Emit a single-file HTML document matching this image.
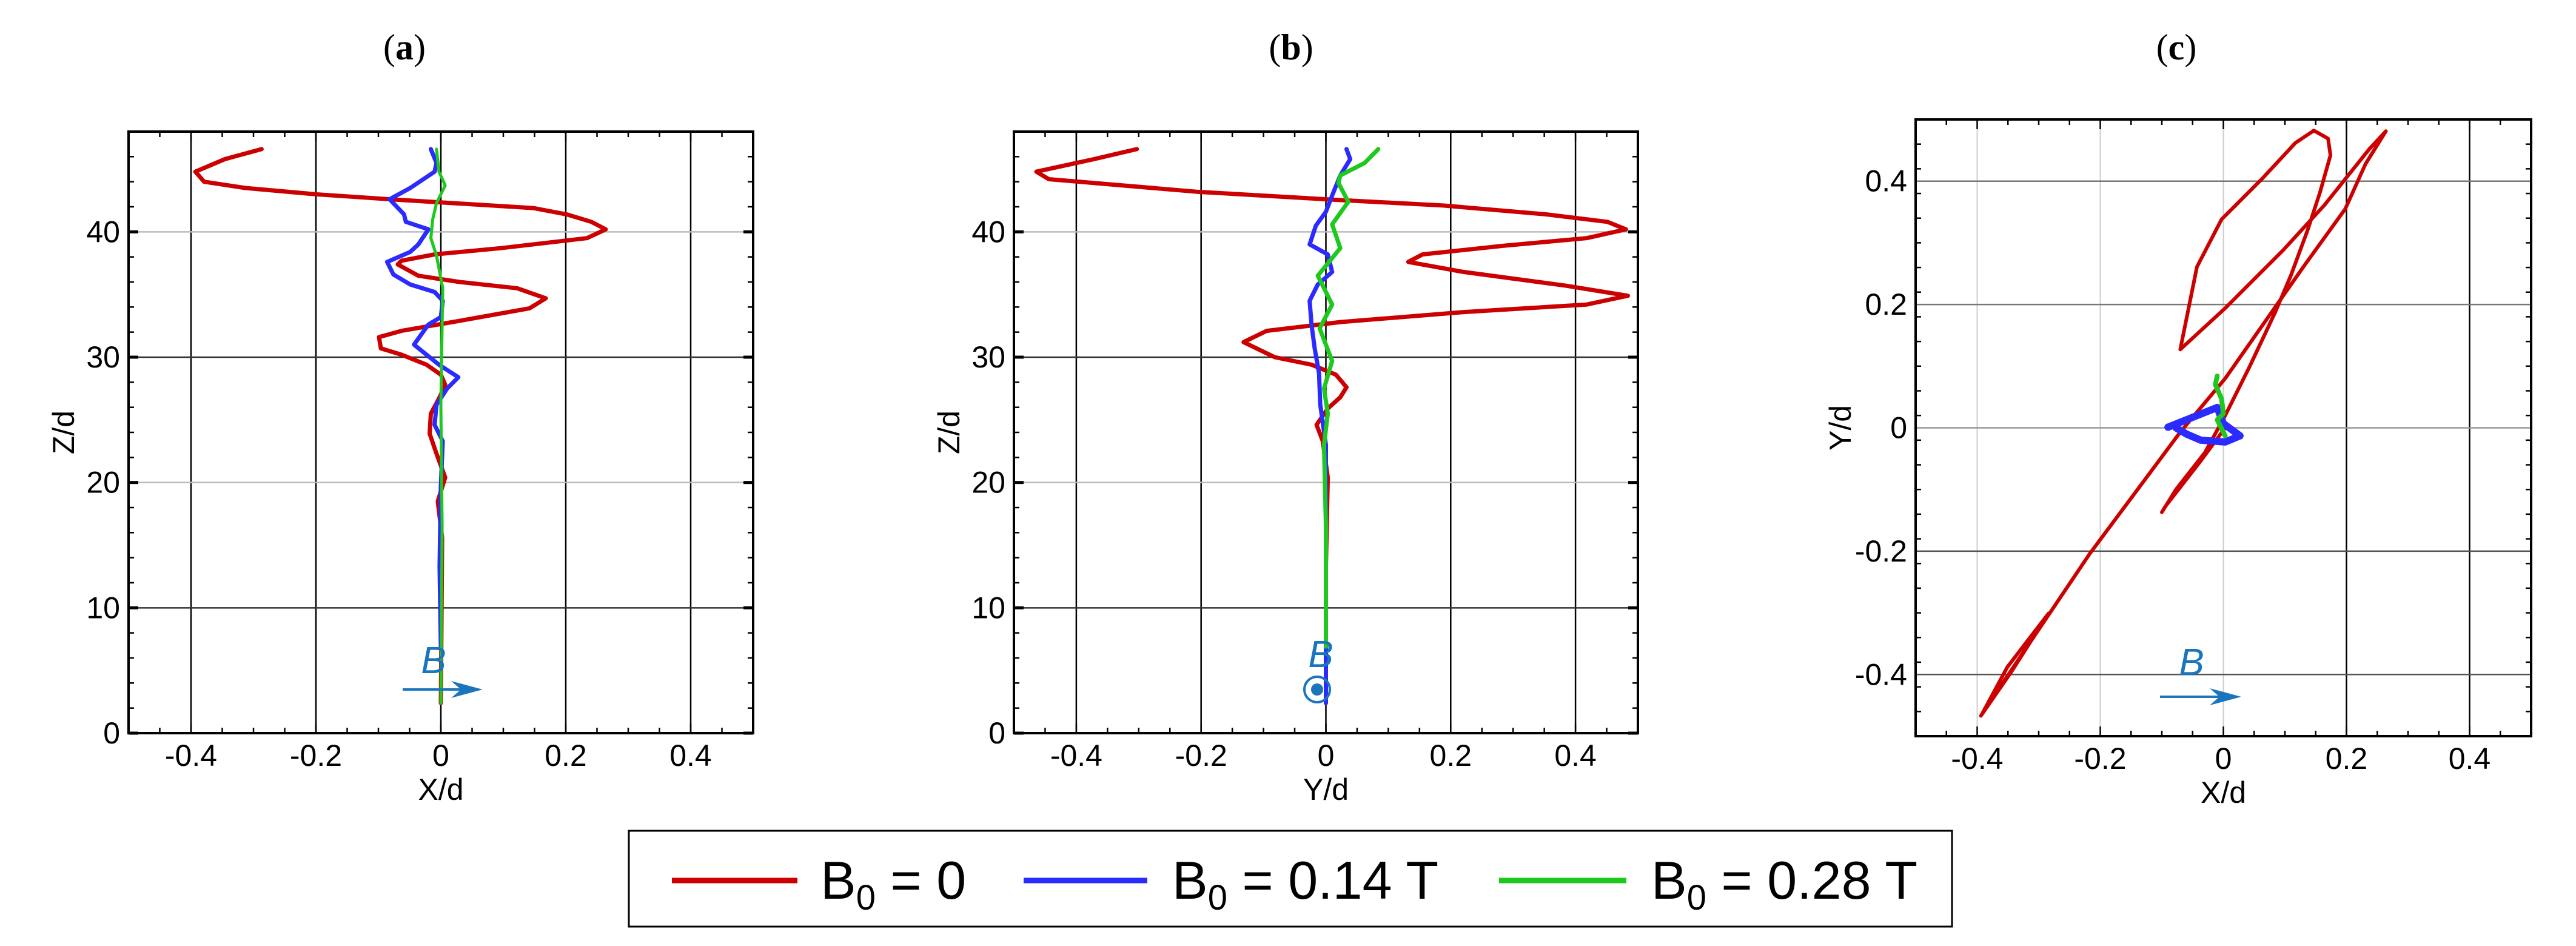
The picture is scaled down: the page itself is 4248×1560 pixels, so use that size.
<!DOCTYPE html>
<html><head><meta charset="utf-8"><style>
body{margin:0;background:#fff;}
svg{display:block;font-family:"Liberation Sans",sans-serif;}
</style></head><body>
<svg id="fig" width="4248" height="1560" viewBox="0 0 4248 1560" xmlns="http://www.w3.org/2000/svg">
<g id="layer"></g>
<text x="667" y="98" font-family="Liberation Serif" font-size="60" text-anchor="middle">(<tspan font-weight="bold">a</tspan>)</text>
<text x="2129" y="98" font-family="Liberation Serif" font-size="60" text-anchor="middle">(<tspan font-weight="bold">b</tspan>)</text>
<text x="3589" y="98" font-family="Liberation Serif" font-size="60" text-anchor="middle">(<tspan font-weight="bold">c</tspan>)</text>
<g>
<rect x="1037" y="1370" width="2182" height="158" fill="#fff" stroke="#000" stroke-width="3"/>
<g><line x1="1108" y1="1452" x2="1315" y2="1452" stroke="#cc0000" stroke-width="9"/><text x="1353" y="1482" font-size="88">B<tspan font-size="58" dy="18">0</tspan><tspan dy="-18"> = 0</tspan></text></g>
<g><line x1="1688" y1="1452" x2="1892" y2="1452" stroke="#2b2bff" stroke-width="9"/><text x="1933" y="1482" font-size="88">B<tspan font-size="58" dy="18">0</tspan><tspan dy="-18"> = 0.14 T</tspan></text></g>
<g><line x1="2472" y1="1452" x2="2682" y2="1452" stroke="#1ec81e" stroke-width="9"/><text x="2723" y="1482" font-size="88">B<tspan font-size="58" dy="18">0</tspan><tspan dy="-18"> = 0.28 T</tspan></text></g>
</g>
</svg>
<script>
// ---- data ----
const aRedX=[-0.287,-0.346,-0.393,-0.379,-0.313,-0.201,-0.082,0.016,0.148,0.201,0.241,0.264,0.234,0.096,-0.010,-0.063,-0.069,-0.036,0.030,0.122,0.168,0.142,0.030,-0.063,-0.099,-0.096,-0.063,-0.023,0,0.007,-0.003,-0.016,-0.018,-0.007,0.007,-0.005,0.002,0];
const aRedZ=[46.6,45.8,44.8,44.0,43.5,43.0,42.6,42.3,41.9,41.4,40.8,40.2,39.5,38.7,38.2,37.7,37.4,36.5,36.0,35.5,34.7,33.9,32.9,32.1,31.6,30.7,30.2,29.4,28.6,27.8,26.7,25.5,23.9,22.3,20.4,18.5,15.6,2.4];
const aBlueX=[-0.016,-0.007,-0.010,-0.049,-0.082,-0.059,-0.056,-0.020,-0.036,-0.049,-0.086,-0.076,-0.049,-0.010,0.003,0,-0.020,-0.043,-0.023,-0.003,0.028,0.010,-0.007,-0.010,0.003,0,-0.002,0];
const aBlueZ=[46.6,45.5,44.8,43.5,42.6,41.4,40.8,40.2,39.0,38.4,37.6,36.6,35.8,35.2,34.5,33.2,32.6,31.0,30.2,29.4,28.4,27.5,26.2,24.6,23.3,19.7,13.3,6.9];
const aGreenX=[-0.007,-0.003,0.007,-0.007,-0.013,-0.016,-0.007,0.003,0.002,0,0.002,0];
const aGreenZ=[46.6,44.8,43.7,42.3,41.0,39.5,38.1,35.5,32.6,26.2,16.5,2.4];
const bRedY=[-0.303,-0.372,-0.464,-0.444,-0.372,-0.207,0,0.188,0.352,0.451,0.481,0.418,0.286,0.155,0.132,0.221,0.385,0.484,0.418,0.221,0.023,-0.095,-0.132,-0.082,-0.023,0.016,0.033,0.023,0.003,-0.015,-0.005,0.003,0,0];
const bRedZ=[46.6,45.8,44.8,44.2,43.9,43.2,42.6,42.1,41.4,40.8,40.2,39.5,38.9,38.2,37.6,36.8,35.7,34.9,34.2,33.6,32.8,32.1,31.2,30.0,29.4,28.6,27.6,26.8,25.9,24.6,23.3,20.4,13.3,2.4];
const bBlueY=[0.033,0.039,0.023,0.010,0,-0.016,-0.026,0.003,0.010,-0.013,-0.026,-0.023,-0.018,-0.011,-0.009,0,0,0];
const bBlueZ=[46.6,45.8,44.5,42.9,41.6,40.5,39.0,38.2,36.8,35.8,34.5,32.6,30.7,28.7,26.2,23.0,16.6,2.4];
const bGreenY=[0.084,0.062,0.023,0.020,0.036,0.010,0.023,-0.013,0.010,-0.010,0.010,-0.003,0.003,-0.003,0,0];
const bGreenZ=[46.6,45.5,44.5,43.9,42.4,40.6,38.7,36.5,34.2,32.3,29.7,27.5,25.5,23.0,16.6,6.9];
const cRedX=[-0.394,-0.344,-0.284,-0.351,-0.391,-0.217,-0.070,0.003,0.064,0.130,0.198,0.231,0.264,0.237,0.164,0.097,0.003,-0.070,-0.043,-0.003,0.064,0.117,0.147,0.170,0.174,0.157,0.137,0.110,0.084,0.043,0.003,-0.030,-0.077,-0.100,-0.094,-0.037,0.003];
const cRedY=[-0.467,-0.395,-0.301,-0.388,-0.462,-0.204,-0.007,0.080,0.167,0.261,0.355,0.428,0.481,0.452,0.361,0.288,0.194,0.127,0.261,0.338,0.405,0.462,0.482,0.469,0.442,0.382,0.321,0.248,0.187,0.100,0.020,-0.040,-0.100,-0.137,-0.127,-0.054,0.000];
const cBlueX=[-0.090,-0.050,-0.010,0,0.027,0.003,-0.037,-0.060,-0.077];
const cBlueY=[0.001,0.017,0.033,0.007,-0.013,-0.023,-0.020,-0.010,0];
const cGreenX=[-0.010,-0.013,-0.003,0,-0.010,0.003];
const cGreenY=[0.084,0.070,0.047,0.023,0.013,-0.013];
const xTicks=[-0.4,-0.2,0,0.2,0.4];
const xTickLabels=["-0.4","-0.2","0","0.2","0.4"];
const zTicks=[0,10,20,30,40];
const zTickLabels=["0","10","20","30","40"];
const cyTicks=[-0.4,-0.2,0,0.2,0.4];
const cyTickLabels=["-0.4","-0.2","0","0.2","0.4"];

const NS="http://www.w3.org/2000/svg";
const layer=document.getElementById('layer');
function mk(tag,attrs,parent){const e=document.createElementNS(NS,tag);for(const k in attrs)e.setAttribute(k,attrs[k]);(parent||layer).appendChild(e);return e;}

function panel(key,L,R,T,B,x0,x1,y0,y1,yt,ytl,xlab,ylab,ylabX,gridCfg,series){
  const sx=v=>L+(v-x0)/(x1-x0)*(R-L);
  const sy=v=>B-(v-y0)/(y1-y0)*(B-T);
  const g=mk('g',{});
  
  
  xTicks.forEach((t,i)=>{const ln=mk('line',{x1:sx(t),x2:sx(t),y1:T,y2:B,stroke:gridCfg.vx[i],'stroke-width':gridCfg.vx[i]=='#000'?2.5:2},g);
    });
  yt.forEach((t,i)=>{if(sy(t)>=B-1)return;const ln=mk('line',{x1:L,x2:R,y1:sy(t),y2:sy(t),stroke:gridCfg.hy[i],'stroke-width':2.5},g);
    });
  for(let v=x0;v<=x1+1e-9;v+=0.05){const maj=Math.abs(v*10-Math.round(v*10))<1e-6&&Math.round(v*10)%2==0;
    mk('line',{x1:sx(v),x2:sx(v),y1:B,y2:B-(maj?16:9),stroke:'#000','stroke-width':2.5},g);
    mk('line',{x1:sx(v),x2:sx(v),y1:T,y2:T+(maj?16:9),stroke:'#000','stroke-width':2.5},g);}
  const step=(yt[1]-yt[0])/5;
  for(let v=y0;v<=y1+1e-9;v+=step){const maj=yt.some(t=>Math.abs(t-v)<1e-6);
    mk('line',{x1:L,x2:L+(maj?16:9),y1:sy(v),y2:sy(v),stroke:'#000','stroke-width':maj?5:2.5},g);
    mk('line',{x1:R,x2:R-(maj?16:9),y1:sy(v),y2:sy(v),stroke:'#000','stroke-width':maj?5:2.5},g);}
  const fr=mk('rect',{x:L,y:T,width:R-L,height:B-T,fill:'none',stroke:'#000','stroke-width':4},g);
  
  xTicks.forEach((t,i)=>{const tx=mk('text',{x:sx(t),y:B+54,'font-size':50,'text-anchor':'middle'},g);tx.textContent=xTickLabels[i];
    });
  yt.forEach((t,i)=>{const tx=mk('text',{x:L-14,y:sy(t)+17,'font-size':50,'text-anchor':'end'},g);tx.textContent=ytl[i];
    });
  const xl=mk('text',{x:(L+R)/2,y:B+110,'font-size':50,'text-anchor':'middle'},g);xl.textContent=xlab;
  
  const yl=mk('text',{x:ylabX,y:(T+B)/2,'font-size':50,'text-anchor':'middle',transform:`rotate(-90 ${ylabX} ${(T+B)/2})`},g);yl.textContent=ylab;
  
  series.forEach(s=>{const pts=s.x.map((v,i)=>sx(v).toFixed(1)+','+sy(s.y[i]).toFixed(1)).join(' ');
    const pl=mk('polyline',{points:pts,fill:'none',stroke:s.c,'stroke-width':s.w,'stroke-linejoin':'round','stroke-linecap':'round'},g);
    });
  return {sx,sy};
}
const gA={vx:['#000','#000','#000','#000','#000'],hy:['#000','#333','#bbb','#333','#bbb']};
panel('panel-a',212,1242,217,1209,-0.5,0.5,0,48,zTicks,zTickLabels,'X/d','Z/d',122,gA,
 [{x:aRedX,y:aRedZ,c:'#cc0000',w:7,n:'series-b0'},{x:aBlueX,y:aBlueZ,c:'#2b2bff',w:7,n:'series-b014'},{x:aGreenX,y:aGreenZ,c:'#1ec81e',w:5,n:'series-b028'}]);
panel('panel-b',1672,2701,217,1209,-0.5,0.5,0,48,zTicks,zTickLabels,'Y/d','Z/d',1582,gA,
 [{x:bRedY,y:bRedZ,c:'#cc0000',w:7,n:'series-b0'},{x:bBlueY,y:bBlueZ,c:'#2b2bff',w:7,n:'series-b014'},{x:bGreenY,y:bGreenZ,c:'#1ec81e',w:7,n:'series-b028'}]);
panel('panel-c',3159,4174,197,1214,-0.5,0.5,-0.5,0.5,cyTicks,cyTickLabels,'X/d','Y/d',3052,{vx:['#ccc','#ccc','#ccc','#000','#000'],hy:['#555','#555','#999','#777','#777']},
 [{x:cRedX,y:cRedY,c:'#cc0000',w:6,n:'series-b0'},{x:cBlueX,y:cBlueY,c:'#2b2bff',w:12,n:'series-b014'},{x:cGreenX,y:cGreenY,c:'#1ec81e',w:8,n:'series-b028'}]);

const blue='#1a75bc';
function bText(x,y,name){const t=mk('text',{x:x,y:y,'font-size':62,'font-style':'italic',fill:blue,'text-anchor':'middle'});t.textContent='B';
  }
function arrow(x1,x2,y,name){const g=mk('g',{});
  mk('line',{x1:x1,x2:x2-30,y1:y,y2:y,stroke:blue,'stroke-width':4},g);
  mk('polygon',{points:`${x2},${y} ${x2-52},${y-14} ${x2-36},${y} ${x2-52},${y+14}`,fill:blue},g);}
bText(715,1110,'panel-a-field-label');arrow(664,796,1137,'panel-a-field-arrow');
bText(2178,1100,'panel-b-field-label');
const cg=mk('g',{});
mk('circle',{cx:2172,cy:1137,r:21,fill:'none',stroke:blue,'stroke-width':4},cg);mk('circle',{cx:2172,cy:1137,r:10,fill:blue},cg);
bText(3614,1113,'panel-c-field-label');arrow(3562,3696,1149,'panel-c-field-arrow');
</script>
</body></html>
